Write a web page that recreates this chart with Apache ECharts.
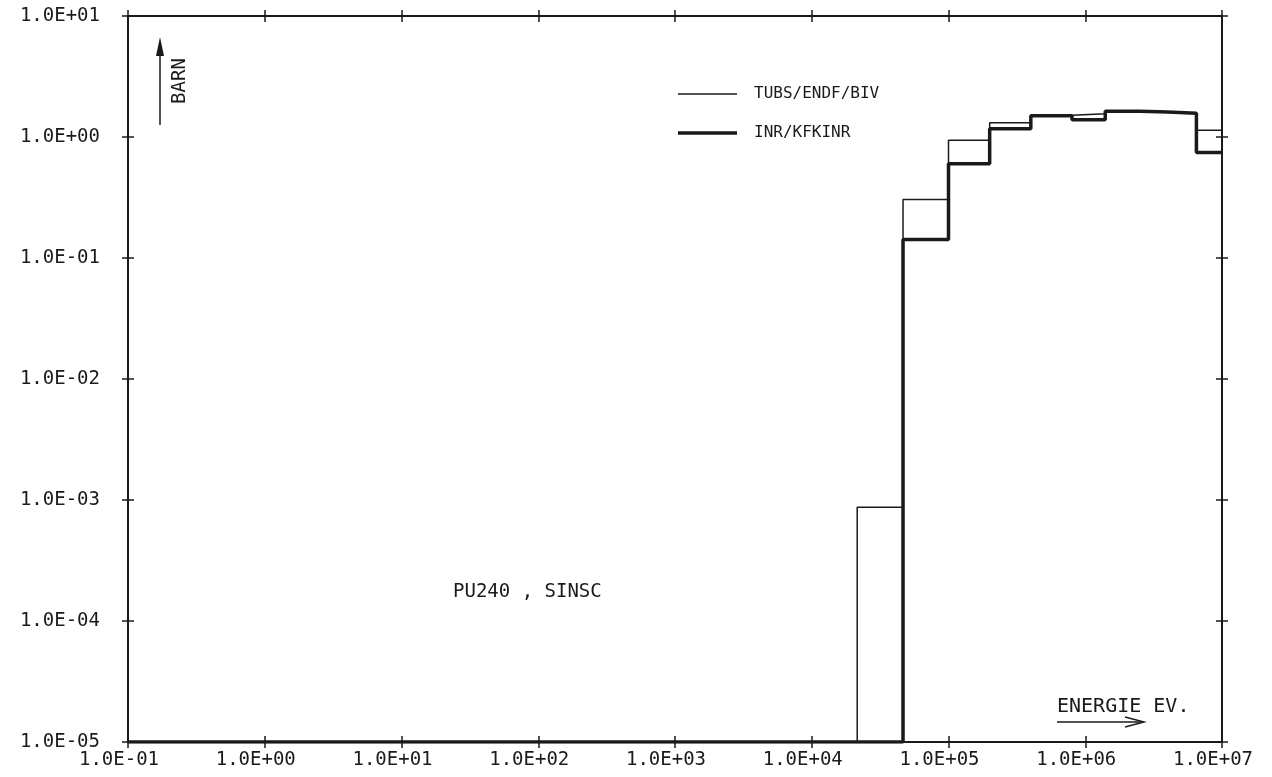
<!DOCTYPE html>
<html>
<head>
<meta charset="utf-8">
<script src="https://cdn.jsdelivr.net/npm/echarts@6/dist/echarts.min.js"></script>
<style>
  html, body { margin: 0; padding: 0; background: #fff; }
  #chart { width: 1272px; height: 777px; }
</style>
</head>
<body>
<div id="chart"></div>
<script>
// ---- data ----
const xTickLabels = ['1.0E-01','1.0E+00','1.0E+01','1.0E+02','1.0E+03','1.0E+04','1.0E+05','1.0E+06','1.0E+07'];
const yTickLabels = ['1.0E-05','1.0E-04','1.0E-03','1.0E-02','1.0E-01','1.0E+00','1.0E+01'];
const seriesNames = ['TUBS/ENDF/BIV', 'INR/KFKINR'];
// group lower edges (eV); last value closes the final group
const tubsEdges  = [0.1, 21500, 46500, 100000, 200000, 400000, 800000, 1400000, 2500000, 4000000, 6500000, 10000000];
const tubsValues = [1e-5, 8.7e-4, 0.304, 0.94, 1.31, 1.51, 1.56, 1.63, 1.61, 1.57, 1.135];
const inrEdges   = [0.1, 46500, 100000, 200000, 400000, 800000, 1400000, 2500000, 4000000, 6500000, 10000000];
const inrValues  = [1e-5, 0.142, 0.60, 1.17, 1.50, 1.39, 1.63, 1.61, 1.57, 0.743];

function stepData(edges, values) {
  const d = values.map((v, i) => [edges[i], v]);
  d.push([edges[edges.length - 1], values[values.length - 1]]);
  return d;
}
const xMinExp = -1, yMinExp = -5;
const FONT = 'DejaVu Sans Mono';
const INK = '#1a1a1a';

function xAx(position, inside, showLabel, showLine) {
  return {
    type: 'log', logBase: 10, min: 0.1, max: 1e7, interval: 1, position: position,
    axisLine: { show: showLine, onZero: false, lineStyle: { color: INK, width: 2 } },
    axisTick: { show: true, inside: inside, length: 6, lineStyle: { color: INK, width: 1.5 } },
    axisLabel: showLabel ? {
      show: true, fontFamily: FONT, fontSize: 19, color: INK, margin: 9,
      padding: [0, 18, 0, 0],
      formatter: v => xTickLabels[Math.round(Math.log10(v)) - xMinExp]
    } : { show: false },
    splitLine: { show: false }, minorTick: { show: false }
  };
}
function yAx(position, inside, showLabel, showLine) {
  return {
    type: 'log', logBase: 10, min: 1e-5, max: 10, interval: 1, position: position,
    axisLine: { show: showLine, onZero: false, lineStyle: { color: INK, width: 2 } },
    axisTick: { show: true, inside: inside, length: 6, lineStyle: { color: INK, width: 1.5 } },
    axisLabel: showLabel ? {
      show: true, fontFamily: FONT, fontSize: 19, color: INK, margin: 28,
      formatter: v => yTickLabels[Math.round(Math.log10(v)) - yMinExp]
    } : { show: false },
    splitLine: { show: false }, minorTick: { show: false }
  };
}

const chart = echarts.init(document.getElementById('chart'), null, { renderer: 'canvas' });
chart.setOption({
  backgroundColor: '#ffffff',
  animation: false,
  grid: { left: 128, top: 16, width: 1094, height: 726, containLabel: false },
  legend: {
    orient: 'vertical', left: 673, top: 81,
    itemWidth: 59, itemHeight: 14, itemGap: 23,
    symbolKeepAspect: true,
    data: [
      { name: seriesNames[0], icon: 'path://M0 0 H59 V1.5 H0 Z' },
      { name: seriesNames[1], icon: 'path://M0 0 H59 V3.5 H0 Z' }
    ],
    itemStyle: { color: INK, borderWidth: 0 },
    textStyle: { fontFamily: FONT, fontSize: 16, color: INK, padding: [0, 0, 0, 12] }
  },
  xAxis: [
    xAx('bottom', false, true, true),
    xAx('bottom', true, false, false),
    xAx('top', true, false, true),
    xAx('top', false, false, false)
  ],
  yAxis: [
    yAx('left', false, true, true),
    yAx('left', true, false, false),
    yAx('right', true, false, true),
    yAx('right', false, false, false)
  ],
  series: [
    {
      name: seriesNames[0], type: 'line', step: 'end', symbol: 'none',
      xAxisIndex: 0, yAxisIndex: 0,
      lineStyle: { color: INK, width: 1.5 }, itemStyle: { color: INK },
      data: stepData(tubsEdges, tubsValues), z: 3
    },
    {
      name: seriesNames[1], type: 'line', step: 'end', symbol: 'none',
      xAxisIndex: 0, yAxisIndex: 0,
      lineStyle: { color: INK, width: 3.5 }, itemStyle: { color: INK },
      data: stepData(inrEdges, inrValues), z: 4
    }
  ],
  graphic: [
    // BARN arrow
    { type: 'line', shape: { x1: 160, y1: 125, x2: 160, y2: 44 }, style: { stroke: INK, lineWidth: 1.5 } },
    { type: 'polygon', shape: { points: [[160, 37], [156, 56], [164, 56]] }, style: { fill: INK } },
    { type: 'text', x: 180, y: 81, rotation: Math.PI / 2,
      style: { text: 'BARN', fontFamily: FONT, fontSize: 19, fill: INK, textAlign: 'center', textVerticalAlign: 'middle' } },
    // ENERGIE EV. label + arrow
    { type: 'text', x: 1057, y: 707,
      style: { text: 'ENERGIE EV.', fontFamily: FONT, fontSize: 20, fill: INK, textAlign: 'left', textVerticalAlign: 'middle' } },
    { type: 'line', shape: { x1: 1057, y1: 722, x2: 1143, y2: 722 }, style: { stroke: INK, lineWidth: 1.5 } },
    { type: 'polyline', shape: { points: [[1125, 717], [1144, 722], [1125, 727]] }, style: { stroke: INK, lineWidth: 1.5, fill: null } },
    // sample label
    { type: 'text', x: 453, y: 592,
      style: { text: 'PU240 , SINSC', fontFamily: FONT, fontSize: 19, fill: INK, textAlign: 'left', textVerticalAlign: 'middle' } }
  ]
});
</script>
</body>
</html>
